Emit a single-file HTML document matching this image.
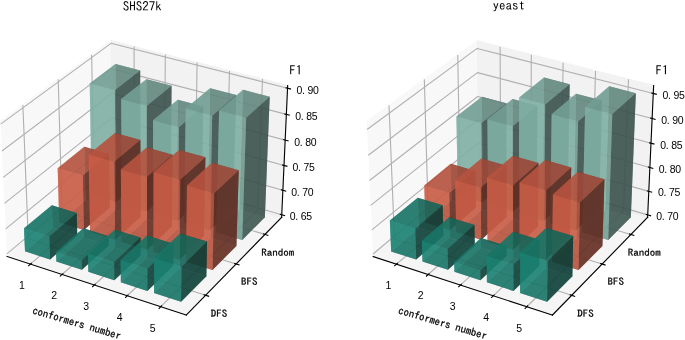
<!DOCTYPE html>
<html><head><meta charset="utf-8"><title>F1 3D bar charts</title>
<style>html,body{margin:0;padding:0;background:#fff;width:685px;height:340px;overflow:hidden}body{position:relative}</style>
</head><body>
<svg width="685" height="340" viewBox="0 0 493.2 244.8" version="1.1" style="position:absolute;left:0;top:0">
<defs>
<style type="text/css">*{stroke-linejoin: round; stroke-linecap: butt}</style>
</defs>
<g id="figure_1">
<g id="patch_1">
<path d="M 0 244.8
L 493.2 244.8
L 493.2 0
L 0 0
z
" style="fill: #ffffff"/>
</g>
<g id="patch_2">
<path d="M -12.296645 241.353845
L 217.567615 241.353845
L 217.567615 11.489585
L -12.296645 11.489585
z
" style="fill: #ffffff"/>
</g>
<g id="pane3d_1">
<g id="patch_3">
<path d="M 5.059692 184.676685
L 80.968378 121.04852
L 79.913174 29.285331
L 0.371867 87.330954
" style="fill: #f2f2f2; opacity: 0.5; stroke: #f2f2f2; stroke-linejoin: miter"/>
</g>
</g>
<g id="pane3d_2">
<g id="patch_4">
<path d="M 80.968378 121.04852
L 202.774734 156.452819
L 207.121573 61.528952
L 79.913174 29.285331
" style="fill: #e6e6e6; opacity: 0.5; stroke: #e6e6e6; stroke-linejoin: miter"/>
</g>
</g>
<g id="pane3d_3">
<g id="patch_5">
<path d="M 5.059692 184.676685
L 134.180379 226.847501
L 202.774734 156.452819
L 80.968378 121.04852
" style="fill: #ececec; opacity: 0.5; stroke: #ececec; stroke-linejoin: miter"/>
</g>
</g>
<g id="grid3d_1">
<g id="Line3DCollection_1">
<path d="M 21.88037 190.170319
L 96.897241 125.678411
L 96.517972 33.494163
" style="fill: none; stroke: #b0b0b0; stroke-width: 0.8"/>
<path d="M 44.680624 197.616881
L 118.459373 131.945672
L 119.009682 39.195156
" style="fill: none; stroke: #b0b0b0; stroke-width: 0.8"/>
<path d="M 67.918029 205.206218
L 140.400323 138.32304
L 141.913797 45.000681
" style="fill: none; stroke: #b0b0b0; stroke-width: 0.8"/>
<path d="M 91.605281 212.942474
L 162.730162 144.813442
L 165.241765 50.913641
" style="fill: none; stroke: #b0b0b0; stroke-width: 0.8"/>
<path d="M 115.755568 220.829958
L 185.459322 151.419912
L 189.00546 56.937045
" style="fill: none; stroke: #b0b0b0; stroke-width: 0.8"/>
</g>
</g>
<g id="grid3d_2">
<g id="Line3DCollection_2">
<path d="M 16.463075 75.588323
L 20.369559 171.843651
L 148.063859 212.599635
" style="fill: none; stroke: #b0b0b0; stroke-width: 0.8"/>
<path d="M 41.911886 57.01694
L 44.630671 151.507506
L 170.013986 190.073405
" style="fill: none; stroke: #b0b0b0; stroke-width: 0.8"/>
<path d="M 65.987217 39.44786
L 67.636733 132.223368
L 190.77147 168.77112
" style="fill: none; stroke: #b0b0b0; stroke-width: 0.8"/>
</g>
</g>
<g id="grid3d_3">
<g id="Line3DCollection_3">
<path d="M 202.858014 154.634182
L 80.948119 119.286794
L 4.970027 182.814731
" style="fill: none; stroke: #b0b0b0; stroke-width: 0.8"/>
<path d="M 203.664842 137.015119
L 80.751939 102.226472
L 4.101046 164.769771
" style="fill: none; stroke: #b0b0b0; stroke-width: 0.8"/>
<path d="M 204.485189 119.100849
L 80.55263 84.894016
L 3.216947 146.410892
" style="fill: none; stroke: #b0b0b0; stroke-width: 0.8"/>
<path d="M 205.319396 100.883892
L 80.350115 67.282862
L 2.317333 127.729829
" style="fill: none; stroke: #b0b0b0; stroke-width: 0.8"/>
<path d="M 206.167819 82.35651
L 80.144319 49.386236
L 1.401792 108.718027
" style="fill: none; stroke: #b0b0b0; stroke-width: 0.8"/>
<path d="M 207.030823 63.5107
L 79.935158 31.197137
L 0.469897 89.366623
" style="fill: none; stroke: #b0b0b0; stroke-width: 0.8"/>
</g>
</g>
<g id="axis3d_1">
<g id="line2d_1">
<path d="M 5.059692 184.676685
L 134.180379 226.847501
" style="fill: none; stroke: #000000; stroke-width: 0.8; stroke-linecap: square"/>
</g>
<g id="xtick_1">
<g id="line2d_2">
<path d="M 22.533812 189.608555
L 20.570671 191.296265
" style="fill: none; stroke: #000000; stroke-width: 0.8; stroke-linecap: square"/>
</g>
</g>
<g id="xtick_2">
<g id="line2d_3">
<path d="M 45.323779 197.044403
L 43.391517 198.764328
" style="fill: none; stroke: #000000; stroke-width: 0.8; stroke-linecap: square"/>
</g>
</g>
<g id="xtick_3">
<g id="line2d_4">
<path d="M 68.550381 204.622715
L 66.65055 206.375787
" style="fill: none; stroke: #000000; stroke-width: 0.8; stroke-linecap: square"/>
</g>
</g>
<g id="xtick_4">
<g id="line2d_5">
<path d="M 92.226288 212.347624
L 90.360513 214.134811
" style="fill: none; stroke: #000000; stroke-width: 0.8; stroke-linecap: square"/>
</g>
</g>
<g id="xtick_5">
<g id="line2d_6">
<path d="M 116.364665 220.223428
L 114.534648 222.045734
" style="fill: none; stroke: #000000; stroke-width: 0.8; stroke-linecap: square"/>
</g>
</g>
</g>
<g id="axis3d_2">
<g id="line2d_7">
<path d="M 202.774734 156.452819
L 134.180379 226.847501
" style="fill: none; stroke: #000000; stroke-width: 0.8; stroke-linecap: square"/>
</g>
<g id="xtick_6">
<g id="line2d_8">
<path d="M 146.988402 212.256383
L 150.217523 213.287016
" style="fill: none; stroke: #000000; stroke-width: 0.8; stroke-linecap: square"/>
</g>
</g>
<g id="xtick_7">
<g id="line2d_9">
<path d="M 168.959469 189.749053
L 172.125639 190.722916
" style="fill: none; stroke: #000000; stroke-width: 0.8; stroke-linecap: square"/>
</g>
</g>
<g id="xtick_8">
<g id="line2d_10">
<path d="M 189.737237 168.464148
L 192.842437 169.385805
" style="fill: none; stroke: #000000; stroke-width: 0.8; stroke-linecap: square"/>
</g>
</g>
</g>
<g id="axis3d_3">
<g id="line2d_11">
<path d="M 202.774734 156.452819
L 207.121573 61.528952
" style="fill: none; stroke: #000000; stroke-width: 0.8; stroke-linecap: square"/>
</g>
<g id="xtick_9">
<g id="line2d_12">
<path d="M 201.834813 154.337508
L 204.906852 155.228236
" style="fill: none; stroke: #000000; stroke-width: 0.8; stroke-linecap: square"/>
</g>
</g>
<g id="xtick_10">
<g id="line2d_13">
<path d="M 202.632822 136.723021
L 205.73136 137.600015
" style="fill: none; stroke: #000000; stroke-width: 0.8; stroke-linecap: square"/>
</g>
</g>
<g id="xtick_11">
<g id="line2d_14">
<path d="M 203.444196 118.813523
L 206.569695 119.676197
" style="fill: none; stroke: #000000; stroke-width: 0.8; stroke-linecap: square"/>
</g>
</g>
<g id="xtick_12">
<g id="line2d_15">
<path d="M 204.269273 100.601541
L 207.422206 101.449283
" style="fill: none; stroke: #000000; stroke-width: 0.8; stroke-linecap: square"/>
</g>
</g>
<g id="xtick_13">
<g id="line2d_16">
<path d="M 205.108404 82.079346
L 208.289255 82.91152
" style="fill: none; stroke: #000000; stroke-width: 0.8; stroke-linecap: square"/>
</g>
</g>
<g id="xtick_14">
<g id="line2d_17">
<path d="M 205.961952 63.238944
L 209.17122 64.054888
" style="fill: none; stroke: #000000; stroke-width: 0.8; stroke-linecap: square"/>
</g>
</g>
</g>
<g id="axes_1">
<g id="Poly3DCollection_1">
<path d="M 66.078973 140.28804
L 83.924591 125.19053
L 101.099102 130.205371
L 83.489503 145.516389
z
" clip-path="url(#pb77e497177)" style="fill: #4d6a63; fill-opacity: 0.7"/>
<path d="M 83.924591 125.19053
L 83.122492 46.138811
L 100.927183 50.767761
L 101.099102 130.205371
z
" clip-path="url(#pb77e497177)" style="fill: #3c524d; fill-opacity: 0.7"/>
<path d="M 66.078973 140.28804
L 64.589029 60.081757
L 83.122492 46.138811
L 83.924591 125.19053
z
" clip-path="url(#pb77e497177)" style="fill: #80afa4; fill-opacity: 0.7"/>
<path d="M 83.489503 145.516389
L 101.099102 130.205371
L 100.927183 50.767761
L 82.647414 64.915296
z
" clip-path="url(#pb77e497177)" style="fill: #3c524d; fill-opacity: 0.7"/>
<path d="M 66.078973 140.28804
L 83.489503 145.516389
L 82.647414 64.915296
L 64.589029 60.081757
z
" clip-path="url(#pb77e497177)" style="fill: #80afa4; fill-opacity: 0.7"/>
<path d="M 64.589029 60.081757
L 82.647414 64.915296
L 100.927183 50.767761
L 83.122492 46.138811
z
" clip-path="url(#pb77e497177)" style="fill: #6f988f; fill-opacity: 0.7"/>
</g>
<g id="Poly3DCollection_2">
<path d="M 87.880942 146.83513
L 105.430217 131.470027
L 122.906994 136.573128
L 105.604434 152.15746
z
" clip-path="url(#pb77e497177)" style="fill: #4d6a63; fill-opacity: 0.7"/>
<path d="M 105.430217 131.470027
L 105.419407 57.078869
L 123.506936 61.818792
L 122.906994 136.573128
z
" clip-path="url(#pb77e497177)" style="fill: #3c524d; fill-opacity: 0.7"/>
<path d="M 87.880942 146.83513
L 87.24761 71.357478
L 105.419407 57.078869
L 105.430217 131.470027
z
" clip-path="url(#pb77e497177)" style="fill: #80afa4; fill-opacity: 0.7"/>
<path d="M 105.604434 152.15746
L 122.906994 136.573128
L 123.506936 61.818792
L 105.599528 76.308355
z
" clip-path="url(#pb77e497177)" style="fill: #3c524d; fill-opacity: 0.7"/>
<path d="M 87.880942 146.83513
L 105.604434 152.15746
L 105.599528 76.308355
L 87.24761 71.357478
z
" clip-path="url(#pb77e497177)" style="fill: #80afa4; fill-opacity: 0.7"/>
<path d="M 87.24761 71.357478
L 105.599528 76.308355
L 123.506936 61.818792
L 105.419407 57.078869
z
" clip-path="url(#pb77e497177)" style="fill: #6f988f; fill-opacity: 0.7"/>
</g>
<g id="Poly3DCollection_3">
<path d="M 61.49989 144.161975
L 60.702209 105.735692
L 78.48394 110.835473
L 78.970149 149.445831
z
" clip-path="url(#pb77e497177)" style="fill: #5f2b21; fill-opacity: 0.7"/>
<path d="M 42.690008 160.075259
L 61.49989 144.161975
L 78.970149 149.445831
L 60.402063 165.590225
z
" clip-path="url(#pb77e497177)" style="fill: #7a372a; fill-opacity: 0.7"/>
<path d="M 42.690008 160.075259
L 41.528229 121.098588
L 60.702209 105.735692
L 61.49989 144.161975
z
" clip-path="url(#pb77e497177)" style="fill: #c95c46; fill-opacity: 0.7"/>
<path d="M 60.402063 165.590225
L 78.970149 149.445831
L 78.48394 110.835473
L 59.560419 126.425598
z
" clip-path="url(#pb77e497177)" style="fill: #5f2b21; fill-opacity: 0.7"/>
<path d="M 41.528229 121.098588
L 59.560419 126.425598
L 78.48394 110.835473
L 60.702209 105.735692
z
" clip-path="url(#pb77e497177)" style="fill: #af503d; fill-opacity: 0.7"/>
<path d="M 42.690008 160.075259
L 60.402063 165.590225
L 59.560419 126.425598
L 41.528229 121.098588
z
" clip-path="url(#pb77e497177)" style="fill: #c95c46; fill-opacity: 0.7"/>
</g>
<g id="Poly3DCollection_4">
<path d="M 110.075166 153.500013
L 127.314671 137.86014
L 145.101765 143.053851
L 128.120135 158.918882
z
" clip-path="url(#pb77e497177)" style="fill: #4d6a63; fill-opacity: 0.7"/>
<path d="M 127.314671 137.86014
L 127.981046 71.832576
L 146.326469 76.704773
L 145.101765 143.053851
z
" clip-path="url(#pb77e497177)" style="fill: #3c524d; fill-opacity: 0.7"/>
<path d="M 110.075166 153.500013
L 110.211973 86.510743
L 127.981046 71.832576
L 127.314671 137.86014
z
" clip-path="url(#pb77e497177)" style="fill: #80afa4; fill-opacity: 0.7"/>
<path d="M 128.120135 158.918882
L 145.101765 143.053851
L 146.326469 76.704773
L 128.831912 91.600926
z
" clip-path="url(#pb77e497177)" style="fill: #3c524d; fill-opacity: 0.7"/>
<path d="M 110.075166 153.500013
L 128.120135 158.918882
L 128.831912 91.600926
L 110.211973 86.510743
z
" clip-path="url(#pb77e497177)" style="fill: #80afa4; fill-opacity: 0.7"/>
<path d="M 110.211973 86.510743
L 128.831912 91.600926
L 146.326469 76.704773
L 127.981046 71.832576
z
" clip-path="url(#pb77e497177)" style="fill: #6f988f; fill-opacity: 0.7"/>
</g>
<g id="Poly3DCollection_5">
<path d="M 37.86014 164.161359
L 37.335001 147.828562
L 55.24284 153.326093
L 55.633356 169.736472
z
" clip-path="url(#pb77e497177)" style="fill: #0d3d36; fill-opacity: 0.7"/>
<path d="M 18.005673 180.958369
L 37.86014 164.161359
L 55.633356 169.736472
L 36.02634 186.784184
z
" clip-path="url(#pb77e497177)" style="fill: #114e45; fill-opacity: 0.7"/>
<path d="M 18.005673 180.958369
L 17.311782 164.393726
L 37.335001 147.828562
L 37.86014 164.161359
z
" clip-path="url(#pb77e497177)" style="fill: #1b8172; fill-opacity: 0.7"/>
<path d="M 36.02634 186.784184
L 55.633356 169.736472
L 55.24284 153.326093
L 35.470794 170.140455
z
" clip-path="url(#pb77e497177)" style="fill: #0d3d36; fill-opacity: 0.7"/>
<path d="M 17.311782 164.393726
L 35.470794 170.140455
L 55.24284 153.326093
L 37.335001 147.828562
z
" clip-path="url(#pb77e497177)" style="fill: #187063; fill-opacity: 0.7"/>
<path d="M 18.005673 180.958369
L 36.02634 186.784184
L 35.470794 170.140455
L 17.311782 164.393726
z
" clip-path="url(#pb77e497177)" style="fill: #1b8172; fill-opacity: 0.7"/>
</g>
<g id="Poly3DCollection_6">
<path d="M 64.870629 166.981593
L 83.376861 150.778636
L 101.162841 156.157981
L 82.909795 172.598412
z
" clip-path="url(#pb77e497177)" style="fill: #7a372a; fill-opacity: 0.7"/>
<path d="M 83.376861 150.778636
L 82.797597 95.749563
L 101.043366 100.861464
L 101.162841 156.157981
z
" clip-path="url(#pb77e497177)" style="fill: #5f2b21; fill-opacity: 0.7"/>
<path d="M 64.870629 166.981593
L 63.788404 111.152757
L 82.797597 95.749563
L 83.376861 150.778636
z
" clip-path="url(#pb77e497177)" style="fill: #c95c46; fill-opacity: 0.7"/>
<path d="M 82.909795 172.598412
L 101.162841 156.157981
L 101.043366 100.861464
L 82.300647 116.496389
z
" clip-path="url(#pb77e497177)" style="fill: #5f2b21; fill-opacity: 0.7"/>
<path d="M 64.870629 166.981593
L 82.909795 172.598412
L 82.300647 116.496389
L 63.788404 111.152757
z
" clip-path="url(#pb77e497177)" style="fill: #c95c46; fill-opacity: 0.7"/>
<path d="M 63.788404 111.152757
L 82.300647 116.496389
L 101.043366 100.861464
L 82.797597 95.749563
z
" clip-path="url(#pb77e497177)" style="fill: #af503d; fill-opacity: 0.7"/>
</g>
<g id="Poly3DCollection_7">
<path d="M 132.672328 160.285897
L 149.588052 144.363817
L 167.693802 149.650573
L 151.047599 165.803956
z
" clip-path="url(#pb77e497177)" style="fill: #4d6a63; fill-opacity: 0.7"/>
<path d="M 149.588052 144.363817
L 151.252314 63.476454
L 170.062778 68.364101
L 167.693802 149.650573
z
" clip-path="url(#pb77e497177)" style="fill: #3c524d; fill-opacity: 0.7"/>
<path d="M 132.672328 160.285897
L 133.71742 78.204594
L 151.252314 63.476454
L 149.588052 144.363817
z
" clip-path="url(#pb77e497177)" style="fill: #80afa4; fill-opacity: 0.7"/>
<path d="M 151.047599 165.803956
L 167.693802 149.650573
L 170.062778 68.364101
L 152.819145 83.314505
z
" clip-path="url(#pb77e497177)" style="fill: #3c524d; fill-opacity: 0.7"/>
<path d="M 132.672328 160.285897
L 151.047599 165.803956
L 152.819145 83.314505
L 133.71742 78.204594
z
" clip-path="url(#pb77e497177)" style="fill: #80afa4; fill-opacity: 0.7"/>
<path d="M 133.71742 78.204594
L 152.819145 83.314505
L 170.062778 68.364101
L 151.252314 63.476454
z
" clip-path="url(#pb77e497177)" style="fill: #6f988f; fill-opacity: 0.7"/>
</g>
<g id="Poly3DCollection_8">
<path d="M 60.117575 171.143085
L 59.971108 164.387799
L 78.131834 170.034514
L 78.220842 176.821729
z
" clip-path="url(#pb77e497177)" style="fill: #0d3d36; fill-opacity: 0.7"/>
<path d="M 40.573919 188.254349
L 40.360018 181.40367
L 59.971108 164.387799
L 60.117575 171.143085
z
" clip-path="url(#pb77e497177)" style="fill: #1b8172; fill-opacity: 0.7"/>
<path d="M 40.573919 188.254349
L 60.117575 171.143085
L 78.220842 176.821729
L 58.93678 194.190791
z
" clip-path="url(#pb77e497177)" style="fill: #114e45; fill-opacity: 0.7"/>
<path d="M 40.360018 181.40367
L 58.781981 187.307587
L 78.131834 170.034514
L 59.971108 164.387799
z
" clip-path="url(#pb77e497177)" style="fill: #187063; fill-opacity: 0.7"/>
<path d="M 58.93678 194.190791
L 78.220842 176.821729
L 78.131834 170.034514
L 58.781981 187.307587
z
" clip-path="url(#pb77e497177)" style="fill: #0d3d36; fill-opacity: 0.7"/>
<path d="M 40.573919 188.254349
L 58.93678 194.190791
L 58.781981 187.307587
L 40.360018 181.40367
z
" clip-path="url(#pb77e497177)" style="fill: #1b8172; fill-opacity: 0.7"/>
</g>
<g id="Poly3DCollection_9">
<path d="M 87.461269 174.015595
L 105.649551 157.51498
L 123.759889 162.992427
L 105.836693 179.737113
z
" clip-path="url(#pb77e497177)" style="fill: #7a372a; fill-opacity: 0.7"/>
<path d="M 105.649551 157.51498
L 105.647317 106.201661
L 124.1997 111.429705
L 123.759889 162.992427
z
" clip-path="url(#pb77e497177)" style="fill: #5f2b21; fill-opacity: 0.7"/>
<path d="M 87.461269 174.015595
L 87.008395 121.956558
L 105.647317 106.201661
L 105.649551 157.51498
z
" clip-path="url(#pb77e497177)" style="fill: #c95c46; fill-opacity: 0.7"/>
<path d="M 105.836693 179.737113
L 123.759889 162.992427
L 124.1997 111.429705
L 105.839062 127.423418
z
" clip-path="url(#pb77e497177)" style="fill: #5f2b21; fill-opacity: 0.7"/>
<path d="M 87.461269 174.015595
L 105.836693 179.737113
L 105.839062 127.423418
L 87.008395 121.956558
z
" clip-path="url(#pb77e497177)" style="fill: #c95c46; fill-opacity: 0.7"/>
<path d="M 87.008395 121.956558
L 105.839062 127.423418
L 124.1997 111.429705
L 105.647317 106.201661
z
" clip-path="url(#pb77e497177)" style="fill: #af503d; fill-opacity: 0.7"/>
</g>
<g id="Poly3DCollection_10">
<path d="M 155.6835 167.196108
L 172.260821 150.984112
L 190.693867 156.366437
L 174.398228 172.816105
z
" clip-path="url(#pb77e497177)" style="fill: #4d6a63; fill-opacity: 0.7"/>
<path d="M 172.260821 150.984112
L 174.962389 64.704065
L 194.17001 69.657811
L 190.693867 156.366437
z
" clip-path="url(#pb77e497177)" style="fill: #3c524d; fill-opacity: 0.7"/>
<path d="M 155.6835 167.196108
L 157.757775 79.633964
L 174.962389 64.704065
L 172.260821 150.984112
z
" clip-path="url(#pb77e497177)" style="fill: #80afa4; fill-opacity: 0.7"/>
<path d="M 174.398228 172.816105
L 190.693867 156.366437
L 194.17001 69.657811
L 177.271732 84.815681
z
" clip-path="url(#pb77e497177)" style="fill: #3c524d; fill-opacity: 0.7"/>
<path d="M 155.6835 167.196108
L 174.398228 172.816105
L 177.271732 84.815681
L 157.757775 79.633964
z
" clip-path="url(#pb77e497177)" style="fill: #80afa4; fill-opacity: 0.7"/>
<path d="M 157.757775 79.633964
L 177.271732 84.815681
L 194.17001 69.657811
L 174.962389 64.704065
z
" clip-path="url(#pb77e497177)" style="fill: #6f988f; fill-opacity: 0.7"/>
</g>
<g id="Poly3DCollection_11">
<path d="M 82.788721 178.254584
L 82.647394 165.341979
L 101.203337 171.065628
L 101.231318 184.039669
z
" clip-path="url(#pb77e497177)" style="fill: #0d3d36; fill-opacity: 0.7"/>
<path d="M 63.571123 195.689005
L 63.305571 182.592854
L 82.647394 165.341979
L 82.788721 178.254584
z
" clip-path="url(#pb77e497177)" style="fill: #1b8172; fill-opacity: 0.7"/>
<path d="M 63.571123 195.689005
L 82.788721 178.254584
L 101.231318 184.039669
L 82.286016 201.739254
z
" clip-path="url(#pb77e497177)" style="fill: #114e45; fill-opacity: 0.7"/>
<path d="M 63.305571 182.592854
L 82.137175 188.580528
L 101.203337 171.065628
L 82.647394 165.341979
z
" clip-path="url(#pb77e497177)" style="fill: #187063; fill-opacity: 0.7"/>
<path d="M 82.286016 201.739254
L 101.231318 184.039669
L 101.203337 171.065628
L 82.137175 188.580528
z
" clip-path="url(#pb77e497177)" style="fill: #0d3d36; fill-opacity: 0.7"/>
<path d="M 63.571123 195.689005
L 82.286016 201.739254
L 82.137175 188.580528
L 63.305571 182.592854
z
" clip-path="url(#pb77e497177)" style="fill: #1b8172; fill-opacity: 0.7"/>
</g>
<g id="Poly3DCollection_12">
<path d="M 110.473404 181.180837
L 128.328795 164.374287
L 146.772444 169.952543
L 129.194576 187.01001
z
" clip-path="url(#pb77e497177)" style="fill: #7a372a; fill-opacity: 0.7"/>
<path d="M 128.328795 164.374287
L 128.93272 107.930237
L 147.877795 113.232435
L 146.772444 169.952543
z
" clip-path="url(#pb77e497177)" style="fill: #5f2b21; fill-opacity: 0.7"/>
<path d="M 110.473404 181.180837
L 110.602798 123.911387
L 128.93272 107.930237
L 128.328795 164.374287
z
" clip-path="url(#pb77e497177)" style="fill: #c95c46; fill-opacity: 0.7"/>
<path d="M 129.194576 187.01001
L 146.772444 169.952543
L 147.877795 113.232435
L 129.840881 129.458705
z
" clip-path="url(#pb77e497177)" style="fill: #5f2b21; fill-opacity: 0.7"/>
<path d="M 110.473404 181.180837
L 129.194576 187.01001
L 129.840881 129.458705
L 110.602798 123.911387
z
" clip-path="url(#pb77e497177)" style="fill: #c95c46; fill-opacity: 0.7"/>
<path d="M 110.602798 123.911387
L 129.840881 129.458705
L 147.877795 113.232435
L 128.93272 107.930237
z
" clip-path="url(#pb77e497177)" style="fill: #af503d; fill-opacity: 0.7"/>
</g>
<g id="Poly3DCollection_13">
<path d="M 133.918942 188.481026
L 151.425826 171.359953
L 170.212074 177.041828
L 152.995712 194.420921
z
" clip-path="url(#pb77e497177)" style="fill: #7a372a; fill-opacity: 0.7"/>
<path d="M 151.425826 171.359953
L 152.602113 117.18438
L 171.884717 122.601071
L 170.212074 177.041828
z
" clip-path="url(#pb77e497177)" style="fill: #5f2b21; fill-opacity: 0.7"/>
<path d="M 133.918942 188.481026
L 134.661113 133.512664
L 152.602113 117.18438
L 151.425826 171.359953
z
" clip-path="url(#pb77e497177)" style="fill: #c95c46; fill-opacity: 0.7"/>
<path d="M 152.995712 194.420921
L 170.212074 177.041828
L 171.884717 122.601071
L 154.250052 139.181911
z
" clip-path="url(#pb77e497177)" style="fill: #5f2b21; fill-opacity: 0.7"/>
<path d="M 133.918942 188.481026
L 152.995712 194.420921
L 154.250052 139.181911
L 134.661113 133.512664
z
" clip-path="url(#pb77e497177)" style="fill: #c95c46; fill-opacity: 0.7"/>
<path d="M 134.661113 133.512664
L 154.250052 139.181911
L 171.884717 122.601071
L 152.602113 117.18438
z
" clip-path="url(#pb77e497177)" style="fill: #af503d; fill-opacity: 0.7"/>
</g>
<g id="Poly3DCollection_14">
<path d="M 105.88522 185.499507
L 105.886311 169.601542
L 124.821916 175.420138
L 124.676779 191.394055
z
" clip-path="url(#pb77e497177)" style="fill: #0d3d36; fill-opacity: 0.7"/>
<path d="M 87.009631 203.266328
L 105.88522 185.499507
L 124.676779 191.394055
L 106.086779 209.433688
z
" clip-path="url(#pb77e497177)" style="fill: #114e45; fill-opacity: 0.7"/>
<path d="M 87.009631 203.266328
L 86.863862 187.141467
L 105.886311 169.601542
L 105.88522 185.499507
z
" clip-path="url(#pb77e497177)" style="fill: #1b8172; fill-opacity: 0.7"/>
<path d="M 106.086779 209.433688
L 124.676779 191.394055
L 124.821916 175.420138
L 106.089485 193.231487
z
" clip-path="url(#pb77e497177)" style="fill: #0d3d36; fill-opacity: 0.7"/>
<path d="M 86.863862 187.141467
L 106.089485 193.231487
L 124.821916 175.420138
L 105.886311 169.601542
z
" clip-path="url(#pb77e497177)" style="fill: #187063; fill-opacity: 0.7"/>
<path d="M 87.009631 203.266328
L 106.086779 209.433688
L 106.089485 193.231487
L 86.863862 187.141467
z
" clip-path="url(#pb77e497177)" style="fill: #1b8172; fill-opacity: 0.7"/>
</g>
<g id="Poly3DCollection_15">
<path d="M 129.419157 192.881647
L 129.701354 168.061255
L 149.08406 173.948804
L 148.569676 198.888793
z
" clip-path="url(#pb77e497177)" style="fill: #0d3d36; fill-opacity: 0.7"/>
<path d="M 110.902269 210.990465
L 129.419157 192.881647
L 148.569676 198.888793
L 130.352293 217.27837
z
" clip-path="url(#pb77e497177)" style="fill: #114e45; fill-opacity: 0.7"/>
<path d="M 110.902269 210.990465
L 110.965207 185.812796
L 129.701354 168.061255
L 129.419157 192.881647
z
" clip-path="url(#pb77e497177)" style="fill: #1b8172; fill-opacity: 0.7"/>
<path d="M 130.352293 217.27837
L 148.569676 198.888793
L 149.08406 173.948804
L 130.654817 191.978922
z
" clip-path="url(#pb77e497177)" style="fill: #0d3d36; fill-opacity: 0.7"/>
<path d="M 110.965207 185.812796
L 130.654817 191.978922
L 149.08406 173.948804
L 129.701354 168.061255
z
" clip-path="url(#pb77e497177)" style="fill: #187063; fill-opacity: 0.7"/>
<path d="M 110.902269 210.990465
L 130.352293 217.27837
L 130.654817 191.978922
L 110.965207 185.812796
z
" clip-path="url(#pb77e497177)" style="fill: #1b8172; fill-opacity: 0.7"/>
</g>
</g>
<g id="patch_6">
<path d="M 251.34416 241.364205
L 481.055293 241.364205
L 481.055293 11.653072
L 251.34416 11.653072
z
" style="fill: #ffffff"/>
</g>
<g id="pane3d_4">
<g id="patch_7">
<path d="M 268.688934 184.724801
L 344.547053 121.139023
L 343.492552 29.436963
L 264.004232 87.443918
" style="fill: #f2f2f2; opacity: 0.5; stroke: #f2f2f2; stroke-linejoin: miter"/>
</g>
</g>
<g id="pane3d_5">
<g id="patch_8">
<path d="M 344.547053 121.139023
L 466.272266 156.519736
L 470.616209 61.659104
L 343.492552 29.436963
" style="fill: #e6e6e6; opacity: 0.5; stroke: #e6e6e6; stroke-linejoin: miter"/>
</g>
</g>
<g id="pane3d_6">
<g id="patch_9">
<path d="M 268.688934 184.724801
L 397.723606 226.867525
L 466.272266 156.519736
L 344.547053 121.139023
" style="fill: #ececec; opacity: 0.5; stroke: #ececec; stroke-linejoin: miter"/>
</g>
</g>
<g id="grid3d_4">
<g id="Line3DCollection_4">
<path d="M 285.498407 190.214775
L 360.465305 125.76583
L 360.086288 33.642991
" style="fill: none; stroke: #b0b0b0; stroke-width: 0.8"/>
<path d="M 308.283472 197.656377
L 382.013073 132.028916
L 382.563015 39.340186
" style="fill: none; stroke: #b0b0b0; stroke-width: 0.8"/>
<path d="M 331.505398 205.240658
L 403.939406 138.402035
L 405.451872 45.141845
" style="fill: none; stroke: #b0b0b0; stroke-width: 0.8"/>
<path d="M 355.17687 212.971761
L 426.25437 144.888114
L 428.7643 51.050865
" style="fill: none; stroke: #b0b0b0; stroke-width: 0.8"/>
<path d="M 379.311069 220.85399
L 448.968389 151.490183
L 452.512164 57.070257
" style="fill: none; stroke: #b0b0b0; stroke-width: 0.8"/>
</g>
</g>
<g id="grid3d_5">
<g id="Line3DCollection_5">
<path d="M 280.084721 75.70911
L 283.988603 171.900316
L 411.597838 212.62915
" style="fill: none; stroke: #b0b0b0; stroke-width: 0.8"/>
<path d="M 305.516579 57.150098
L 308.233553 151.577718
L 433.533342 190.117926
" style="fill: none; stroke: #b0b0b0; stroke-width: 0.8"/>
<path d="M 329.575872 39.592722
L 331.224289 132.306427
L 454.276998 168.829832
" style="fill: none; stroke: #b0b0b0; stroke-width: 0.8"/>
</g>
</g>
<g id="grid3d_6">
<g id="Line3DCollection_6">
<path d="M 466.355491 154.702312
L 344.526808 119.378471
L 268.599329 182.864087
" style="fill: none; stroke: #b0b0b0; stroke-width: 0.8"/>
<path d="M 467.130523 137.777598
L 344.338356 102.99023
L 267.764604 165.530472
" style="fill: none; stroke: #b0b0b0; stroke-width: 0.8"/>
<path d="M 467.918032 120.580395
L 344.147016 86.350784
L 266.915925 147.907104
" style="fill: none; stroke: #b0b0b0; stroke-width: 0.8"/>
<path d="M 468.718324 103.104067
L 343.95272 69.454314
L 266.052939 129.986656
" style="fill: none; stroke: #b0b0b0; stroke-width: 0.8"/>
<path d="M 469.531712 85.341765
L 343.755399 52.294817
L 265.175283 111.761552
" style="fill: none; stroke: #b0b0b0; stroke-width: 0.8"/>
<path d="M 470.358519 67.28641
L 343.554983 34.866103
L 264.282578 93.223957
" style="fill: none; stroke: #b0b0b0; stroke-width: 0.8"/>
</g>
</g>
<g id="axis3d_4">
<g id="line2d_18">
<path d="M 268.688934 184.724801
L 397.723606 226.867525
" style="fill: none; stroke: #000000; stroke-width: 0.8; stroke-linecap: square"/>
</g>
<g id="xtick_15">
<g id="line2d_19">
<path d="M 286.151414 189.653386
L 284.189581 191.339972
" style="fill: none; stroke: #000000; stroke-width: 0.8; stroke-linecap: square"/>
</g>
</g>
<g id="xtick_16">
<g id="line2d_20">
<path d="M 308.926199 197.08428
L 306.995224 198.80306
" style="fill: none; stroke: #000000; stroke-width: 0.8; stroke-linecap: square"/>
</g>
</g>
<g id="xtick_17">
<g id="line2d_21">
<path d="M 332.137328 204.657543
L 330.238763 206.409448
" style="fill: none; stroke: #000000; stroke-width: 0.8; stroke-linecap: square"/>
</g>
</g>
<g id="xtick_18">
<g id="line2d_22">
<path d="M 355.797463 212.377307
L 353.932932 214.163303
" style="fill: none; stroke: #000000; stroke-width: 0.8; stroke-linecap: square"/>
</g>
</g>
<g id="xtick_19">
<g id="line2d_23">
<path d="M 379.91976 220.247864
L 378.090962 222.068956
" style="fill: none; stroke: #000000; stroke-width: 0.8; stroke-linecap: square"/>
</g>
</g>
</g>
<g id="axis3d_5">
<g id="line2d_24">
<path d="M 466.272266 156.519736
L 397.723606 226.867525
" style="fill: none; stroke: #000000; stroke-width: 0.8; stroke-linecap: square"/>
</g>
<g id="xtick_20">
<g id="line2d_25">
<path d="M 410.523097 212.286126
L 413.750067 213.316073
" style="fill: none; stroke: #000000; stroke-width: 0.8; stroke-linecap: square"/>
</g>
</g>
<g id="xtick_21">
<g id="line2d_26">
<path d="M 432.479528 189.79379
L 435.643588 190.767004
" style="fill: none; stroke: #000000; stroke-width: 0.8; stroke-linecap: square"/>
</g>
</g>
<g id="xtick_22">
<g id="line2d_27">
<path d="M 453.243454 168.523064
L 456.346585 169.444108
" style="fill: none; stroke: #000000; stroke-width: 0.8; stroke-linecap: square"/>
</g>
</g>
</g>
<g id="axis3d_6">
<g id="line2d_28">
<path d="M 466.272266 156.519736
L 470.616209 61.659104
" style="fill: none; stroke: #000000; stroke-width: 0.8; stroke-linecap: square"/>
</g>
<g id="xtick_23">
<g id="line2d_29">
<path d="M 465.332972 154.405835
L 468.402963 155.29597
" style="fill: none; stroke: #000000; stroke-width: 0.8; stroke-linecap: square"/>
</g>
</g>
<g id="xtick_24">
<g id="line2d_30">
<path d="M 466.099531 137.485515
L 469.194979 138.362464
" style="fill: none; stroke: #000000; stroke-width: 0.8; stroke-linecap: square"/>
</g>
</g>
<g id="xtick_25">
<g id="line2d_31">
<path d="M 466.878428 120.292886
L 469.999756 121.156108
" style="fill: none; stroke: #000000; stroke-width: 0.8; stroke-linecap: square"/>
</g>
</g>
<g id="xtick_26">
<g id="line2d_32">
<path d="M 467.669962 102.82132
L 470.817606 103.670252
" style="fill: none; stroke: #000000; stroke-width: 0.8; stroke-linecap: square"/>
</g>
</g>
<g id="xtick_27">
<g id="line2d_33">
<path d="M 468.474442 85.063974
L 471.64885 85.89803
" style="fill: none; stroke: #000000; stroke-width: 0.8; stroke-linecap: square"/>
</g>
</g>
<g id="xtick_28">
<g id="line2d_34">
<path d="M 469.29219 67.013778
L 472.493819 67.83235
" style="fill: none; stroke: #000000; stroke-width: 0.8; stroke-linecap: square"/>
</g>
</g>
</g>
<g id="axes_2">
<g id="Poly3DCollection_16">
<path d="M 329.667567 140.365727
L 347.501297 125.278274
L 364.664367 130.289774
L 347.066498 145.590593
z
" clip-path="url(#pe1fc2122fa)" style="fill: #4d6a63; fill-opacity: 0.7"/>
<path d="M 347.501297 125.278274
L 346.9361 69.574656
L 364.543233 74.318471
L 364.664367 130.289774
z
" clip-path="url(#pe1fc2122fa)" style="fill: #3c524d; fill-opacity: 0.7"/>
<path d="M 329.667567 140.365727
L 328.61792 83.861416
L 346.9361 69.574656
L 347.501297 125.278274
z
" clip-path="url(#pe1fc2122fa)" style="fill: #80afa4; fill-opacity: 0.7"/>
<path d="M 347.066498 145.590593
L 364.664367 130.289774
L 364.543233 74.318471
L 346.473304 88.812625
z
" clip-path="url(#pe1fc2122fa)" style="fill: #3c524d; fill-opacity: 0.7"/>
<path d="M 329.667567 140.365727
L 347.066498 145.590593
L 346.473304 88.812625
L 328.61792 83.861416
z
" clip-path="url(#pe1fc2122fa)" style="fill: #80afa4; fill-opacity: 0.7"/>
<path d="M 328.61792 83.861416
L 346.473304 88.812625
L 364.543233 74.318471
L 346.9361 69.574656
z
" clip-path="url(#pe1fc2122fa)" style="fill: #6f988f; fill-opacity: 0.7"/>
</g>
<g id="Poly3DCollection_17">
<path d="M 351.455012 146.908455
L 368.992596 131.553588
L 386.457731 136.653289
L 369.166697 152.22724
z
" clip-path="url(#pe1fc2122fa)" style="fill: #4d6a63; fill-opacity: 0.7"/>
<path d="M 368.992596 131.553588
L 368.983848 71.35024
L 386.94323 76.158838
L 386.457731 136.653289
z
" clip-path="url(#pe1fc2122fa)" style="fill: #3c524d; fill-opacity: 0.7"/>
<path d="M 351.455012 146.908455
L 350.94254 85.83437
L 368.983848 71.35024
L 368.992596 131.553588
z
" clip-path="url(#pe1fc2122fa)" style="fill: #80afa4; fill-opacity: 0.7"/>
<path d="M 369.166697 152.22724
L 386.457731 136.653289
L 386.94323 76.158838
L 369.162728 90.855563
z
" clip-path="url(#pe1fc2122fa)" style="fill: #3c524d; fill-opacity: 0.7"/>
<path d="M 351.455012 146.908455
L 369.166697 152.22724
L 369.162728 90.855563
L 350.94254 85.83437
z
" clip-path="url(#pe1fc2122fa)" style="fill: #80afa4; fill-opacity: 0.7"/>
<path d="M 350.94254 85.83437
L 369.162728 90.855563
L 386.94323 76.158838
L 368.983848 71.35024
z
" clip-path="url(#pe1fc2122fa)" style="fill: #6f988f; fill-opacity: 0.7"/>
</g>
<g id="Poly3DCollection_18">
<path d="M 325.091534 144.237081
L 324.546104 117.962361
L 342.217714 123.117908
L 342.550155 149.517417
z
" clip-path="url(#pe1fc2122fa)" style="fill: #5f2b21; fill-opacity: 0.7"/>
<path d="M 306.294183 160.139763
L 325.091534 144.237081
L 342.550155 149.517417
L 323.994439 165.651056
z
" clip-path="url(#pe1fc2122fa)" style="fill: #7a372a; fill-opacity: 0.7"/>
<path d="M 306.294183 160.139763
L 305.499891 133.491977
L 324.546104 117.962361
L 325.091534 144.237081
z
" clip-path="url(#pe1fc2122fa)" style="fill: #c95c46; fill-opacity: 0.7"/>
<path d="M 323.994439 165.651056
L 342.550155 149.517417
L 342.217714 123.117908
L 323.419043 138.875907
z
" clip-path="url(#pe1fc2122fa)" style="fill: #5f2b21; fill-opacity: 0.7"/>
<path d="M 305.499891 133.491977
L 323.419043 138.875907
L 342.217714 123.117908
L 324.546104 117.962361
z
" clip-path="url(#pe1fc2122fa)" style="fill: #af503d; fill-opacity: 0.7"/>
<path d="M 306.294183 160.139763
L 323.994439 165.651056
L 323.419043 138.875907
L 305.499891 133.491977
z
" clip-path="url(#pe1fc2122fa)" style="fill: #c95c46; fill-opacity: 0.7"/>
</g>
<g id="Poly3DCollection_19">
<path d="M 346.953932 150.849333
L 346.566845 114.076719
L 364.64823 119.276054
L 364.728064 156.225095
z
" clip-path="url(#pe1fc2122fa)" style="fill: #5f2b21; fill-opacity: 0.7"/>
<path d="M 328.460028 167.041497
L 346.953932 150.849333
L 364.728064 156.225095
L 346.487177 172.654574
z
" clip-path="url(#pe1fc2122fa)" style="fill: #7a372a; fill-opacity: 0.7"/>
<path d="M 328.460028 167.041497
L 327.736977 129.741417
L 346.566845 114.076719
L 346.953932 150.849333
z
" clip-path="url(#pe1fc2122fa)" style="fill: #c95c46; fill-opacity: 0.7"/>
<path d="M 346.487177 172.654574
L 364.728064 156.225095
L 364.64823 119.276054
L 346.080222 135.174401
z
" clip-path="url(#pe1fc2122fa)" style="fill: #5f2b21; fill-opacity: 0.7"/>
<path d="M 327.736977 129.741417
L 346.080222 135.174401
L 364.64823 119.276054
L 346.566845 114.076719
z
" clip-path="url(#pe1fc2122fa)" style="fill: #af503d; fill-opacity: 0.7"/>
<path d="M 328.460028 167.041497
L 346.487177 172.654574
L 346.080222 135.174401
L 327.736977 129.741417
z
" clip-path="url(#pe1fc2122fa)" style="fill: #c95c46; fill-opacity: 0.7"/>
</g>
<g id="Poly3DCollection_20">
<path d="M 373.634451 153.568898
L 390.862472 137.939444
L 408.637716 143.129695
L 391.667399 158.984158
z
" clip-path="url(#pe1fc2122fa)" style="fill: #4d6a63; fill-opacity: 0.7"/>
<path d="M 390.862472 137.939444
L 391.691276 55.817611
L 410.161025 60.603553
L 408.637716 143.129695
z
" clip-path="url(#pe1fc2122fa)" style="fill: #3c524d; fill-opacity: 0.7"/>
<path d="M 373.634451 153.568898
L 373.804633 70.237481
L 391.691276 55.817611
L 390.862472 137.939444
z
" clip-path="url(#pe1fc2122fa)" style="fill: #80afa4; fill-opacity: 0.7"/>
<path d="M 391.667399 158.984158
L 408.637716 143.129695
L 410.161025 60.603553
L 392.552865 75.239179
z
" clip-path="url(#pe1fc2122fa)" style="fill: #3c524d; fill-opacity: 0.7"/>
<path d="M 373.634451 153.568898
L 391.667399 158.984158
L 392.552865 75.239179
L 373.804633 70.237481
z
" clip-path="url(#pe1fc2122fa)" style="fill: #80afa4; fill-opacity: 0.7"/>
<path d="M 373.804633 70.237481
L 392.552865 75.239179
L 410.161025 60.603553
L 391.691276 55.817611
z
" clip-path="url(#pe1fc2122fa)" style="fill: #6f988f; fill-opacity: 0.7"/>
</g>
<g id="Poly3DCollection_21">
<path d="M 396.216559 160.350262
L 413.121015 144.438788
L 431.214703 149.722022
L 414.57959 165.864645
z
" clip-path="url(#pe1fc2122fa)" style="fill: #4d6a63; fill-opacity: 0.7"/>
<path d="M 413.121015 144.438788
L 414.703163 67.542379
L 433.466766 72.447219
L 431.214703 149.722022
z
" clip-path="url(#pe1fc2122fa)" style="fill: #3c524d; fill-opacity: 0.7"/>
<path d="M 396.216559 160.350262
L 397.210048 82.321934
L 414.703163 67.542379
L 413.121015 144.438788
z
" clip-path="url(#pe1fc2122fa)" style="fill: #80afa4; fill-opacity: 0.7"/>
<path d="M 414.57959 165.864645
L 431.214703 149.722022
L 433.466766 72.447219
L 416.263637 87.449408
z
" clip-path="url(#pe1fc2122fa)" style="fill: #3c524d; fill-opacity: 0.7"/>
<path d="M 396.216559 160.350262
L 414.57959 165.864645
L 416.263637 87.449408
L 397.210048 82.321934
z
" clip-path="url(#pe1fc2122fa)" style="fill: #80afa4; fill-opacity: 0.7"/>
<path d="M 397.210048 82.321934
L 416.263637 87.449408
L 433.466766 72.447219
L 414.703163 67.542379
z
" clip-path="url(#pe1fc2122fa)" style="fill: #6f988f; fill-opacity: 0.7"/>
</g>
<g id="Poly3DCollection_22">
<path d="M 301.467532 164.223142
L 300.763633 142.330592
L 318.705449 147.797573
L 319.228909 169.794541
z
" clip-path="url(#pe1fc2122fa)" style="fill: #0d3d36; fill-opacity: 0.7"/>
<path d="M 281.626291 181.008962
L 301.467532 164.223142
L 319.228909 169.794541
L 299.634954 186.830897
z
" clip-path="url(#pe1fc2122fa)" style="fill: #114e45; fill-opacity: 0.7"/>
<path d="M 281.626291 181.008962
L 280.696143 158.804346
L 300.763633 142.330592
L 301.467532 164.223142
z
" clip-path="url(#pe1fc2122fa)" style="fill: #1b8172; fill-opacity: 0.7"/>
<path d="M 299.634954 186.830897
L 319.228909 169.794541
L 318.705449 147.797573
L 298.890239 164.519814
z
" clip-path="url(#pe1fc2122fa)" style="fill: #0d3d36; fill-opacity: 0.7"/>
<path d="M 280.696143 158.804346
L 298.890239 164.519814
L 318.705449 147.797573
L 300.763633 142.330592
z
" clip-path="url(#pe1fc2122fa)" style="fill: #187063; fill-opacity: 0.7"/>
<path d="M 281.626291 181.008962
L 299.634954 186.830897
L 298.890239 164.519814
L 280.696143 158.804346
z
" clip-path="url(#pe1fc2122fa)" style="fill: #1b8172; fill-opacity: 0.7"/>
</g>
<g id="Poly3DCollection_23">
<path d="M 369.211785 157.581191
L 369.209809 112.190804
L 387.699095 117.444912
L 387.310058 163.054989
z
" clip-path="url(#pe1fc2122fa)" style="fill: #5f2b21; fill-opacity: 0.7"/>
<path d="M 351.035619 174.070813
L 369.211785 157.581191
L 387.310058 163.054989
L 369.398801 179.78852
z
" clip-path="url(#pe1fc2122fa)" style="fill: #7a372a; fill-opacity: 0.7"/>
<path d="M 351.035619 174.070813
L 350.635043 128.023599
L 369.209809 112.190804
L 369.211785 157.581191
z
" clip-path="url(#pe1fc2122fa)" style="fill: #c95c46; fill-opacity: 0.7"/>
<path d="M 369.398801 179.78852
L 387.310058 163.054989
L 387.699095 117.444912
L 369.400897 133.517037
z
" clip-path="url(#pe1fc2122fa)" style="fill: #5f2b21; fill-opacity: 0.7"/>
<path d="M 350.635043 128.023599
L 369.400897 133.517037
L 387.699095 117.444912
L 369.209809 112.190804
z
" clip-path="url(#pe1fc2122fa)" style="fill: #af503d; fill-opacity: 0.7"/>
<path d="M 351.035619 174.070813
L 369.398801 179.78852
L 369.400897 133.517037
L 350.635043 128.023599
z
" clip-path="url(#pe1fc2122fa)" style="fill: #c95c46; fill-opacity: 0.7"/>
</g>
<g id="Poly3DCollection_24">
<path d="M 323.71014 171.200217
L 323.390417 156.454066
L 341.607046 162.058811
L 341.801348 176.875078
z
" clip-path="url(#pe1fc2122fa)" style="fill: #0d3d36; fill-opacity: 0.7"/>
<path d="M 304.179503 188.300082
L 303.712538 173.344425
L 323.390417 156.454066
L 323.71014 171.200217
z
" clip-path="url(#pe1fc2122fa)" style="fill: #1b8172; fill-opacity: 0.7"/>
<path d="M 304.179503 188.300082
L 323.71014 171.200217
L 341.801348 176.875078
L 322.530131 194.232569
z
" clip-path="url(#pe1fc2122fa)" style="fill: #114e45; fill-opacity: 0.7"/>
<path d="M 303.712538 173.344425
L 322.192183 179.205465
L 341.607046 162.058811
L 323.390417 156.454066
z
" clip-path="url(#pe1fc2122fa)" style="fill: #187063; fill-opacity: 0.7"/>
<path d="M 322.530131 194.232569
L 341.801348 176.875078
L 341.607046 162.058811
L 322.192183 179.205465
z
" clip-path="url(#pe1fc2122fa)" style="fill: #0d3d36; fill-opacity: 0.7"/>
<path d="M 304.179503 188.300082
L 322.530131 194.232569
L 322.192183 179.205465
L 303.712538 173.344425
z
" clip-path="url(#pe1fc2122fa)" style="fill: #1b8172; fill-opacity: 0.7"/>
</g>
<g id="Poly3DCollection_25">
<path d="M 346.366183 178.306978
L 346.290954 171.433528
L 364.781601 177.182205
L 364.796495 184.088209
z
" clip-path="url(#pe1fc2122fa)" style="fill: #0d3d36; fill-opacity: 0.7"/>
<path d="M 327.161387 195.729785
L 327.020041 188.759085
L 346.290954 171.433528
L 346.366183 178.306978
z
" clip-path="url(#pe1fc2122fa)" style="fill: #1b8172; fill-opacity: 0.7"/>
<path d="M 327.161387 195.729785
L 346.366183 178.306978
L 364.796495 184.088209
L 345.863814 201.776003
z
" clip-path="url(#pe1fc2122fa)" style="fill: #114e45; fill-opacity: 0.7"/>
<path d="M 327.020041 188.759085
L 345.784591 194.772155
L 364.781601 177.182205
L 346.290954 171.433528
z
" clip-path="url(#pe1fc2122fa)" style="fill: #187063; fill-opacity: 0.7"/>
<path d="M 345.863814 201.776003
L 364.796495 184.088209
L 364.781601 177.182205
L 345.784591 194.772155
z
" clip-path="url(#pe1fc2122fa)" style="fill: #0d3d36; fill-opacity: 0.7"/>
<path d="M 327.161387 195.729785
L 345.863814 201.776003
L 345.784591 194.772155
L 327.020041 188.759085
z
" clip-path="url(#pe1fc2122fa)" style="fill: #1b8172; fill-opacity: 0.7"/>
</g>
<g id="Poly3DCollection_26">
<path d="M 374.032424 181.231282
L 391.87592 164.435928
L 410.307283 170.010468
L 392.741124 187.056572
z
" clip-path="url(#pe1fc2122fa)" style="fill: #7a372a; fill-opacity: 0.7"/>
<path d="M 391.87592 164.435928
L 392.402395 115.230509
L 411.270855 120.565635
L 410.307283 170.010468
z
" clip-path="url(#pe1fc2122fa)" style="fill: #5f2b21; fill-opacity: 0.7"/>
<path d="M 374.032424 181.231282
L 374.145215 131.310093
L 392.402395 115.230509
L 391.87592 164.435928
z
" clip-path="url(#pe1fc2122fa)" style="fill: #c95c46; fill-opacity: 0.7"/>
<path d="M 392.741124 187.056572
L 410.307283 170.010468
L 411.270855 120.565635
L 393.304487 136.891011
z
" clip-path="url(#pe1fc2122fa)" style="fill: #5f2b21; fill-opacity: 0.7"/>
<path d="M 374.032424 181.231282
L 392.741124 187.056572
L 393.304487 136.891011
L 374.145215 131.310093
z
" clip-path="url(#pe1fc2122fa)" style="fill: #c95c46; fill-opacity: 0.7"/>
<path d="M 374.145215 131.310093
L 393.304487 136.891011
L 411.270855 120.565635
L 392.402395 115.230509
z
" clip-path="url(#pe1fc2122fa)" style="fill: #af503d; fill-opacity: 0.7"/>
</g>
<g id="Poly3DCollection_27">
<path d="M 419.212402 167.255869
L 435.77868 151.054673
L 454.199447 156.433412
L 437.914663 172.872123
z
" clip-path="url(#pe1fc2122fa)" style="fill: #4d6a63; fill-opacity: 0.7"/>
<path d="M 435.77868 151.054673
L 438.563453 62.11732
L 457.782683 67.053455
L 454.199447 156.433412
z
" clip-path="url(#pe1fc2122fa)" style="fill: #3c524d; fill-opacity: 0.7"/>
<path d="M 419.212402 167.255869
L 421.350622 76.994419
L 438.563453 62.11732
L 435.77868 151.054673
z
" clip-path="url(#pe1fc2122fa)" style="fill: #80afa4; fill-opacity: 0.7"/>
<path d="M 437.914663 172.872123
L 454.199447 156.433412
L 457.782683 67.053455
L 440.876778 82.158004
z
" clip-path="url(#pe1fc2122fa)" style="fill: #3c524d; fill-opacity: 0.7"/>
<path d="M 419.212402 167.255869
L 437.914663 172.872123
L 440.876778 82.158004
L 421.350622 76.994419
z
" clip-path="url(#pe1fc2122fa)" style="fill: #80afa4; fill-opacity: 0.7"/>
<path d="M 421.350622 76.994419
L 440.876778 82.158004
L 457.782683 67.053455
L 438.563453 62.11732
z
" clip-path="url(#pe1fc2122fa)" style="fill: #6f988f; fill-opacity: 0.7"/>
</g>
<g id="Poly3DCollection_28">
<path d="M 397.462343 188.526608
L 414.957565 171.41694
L 433.731298 177.09503
L 416.526405 194.462546
z
" clip-path="url(#pe1fc2122fa)" style="fill: #7a372a; fill-opacity: 0.7"/>
<path d="M 414.957565 171.41694
L 415.993734 123.694686
L 435.204664 129.140267
L 433.731298 177.09503
z
" clip-path="url(#pe1fc2122fa)" style="fill: #5f2b21; fill-opacity: 0.7"/>
<path d="M 397.462343 188.526608
L 398.116063 140.109308
L 415.993734 123.694686
L 414.957565 171.41694
z
" clip-path="url(#pe1fc2122fa)" style="fill: #c95c46; fill-opacity: 0.7"/>
<path d="M 416.526405 194.462546
L 433.731298 177.09503
L 435.204664 129.140267
L 417.631228 145.808007
z
" clip-path="url(#pe1fc2122fa)" style="fill: #5f2b21; fill-opacity: 0.7"/>
<path d="M 397.462343 188.526608
L 416.526405 194.462546
L 417.631228 145.808007
L 398.116063 140.109308
z
" clip-path="url(#pe1fc2122fa)" style="fill: #c95c46; fill-opacity: 0.7"/>
<path d="M 398.116063 140.109308
L 417.631228 145.808007
L 435.204664 129.140267
L 415.993734 123.694686
z
" clip-path="url(#pe1fc2122fa)" style="fill: #af503d; fill-opacity: 0.7"/>
</g>
<g id="Poly3DCollection_29">
<path d="M 369.447296 185.547075
L 369.448585 166.773146
L 388.397731 172.573878
L 388.226337 191.437696
z
" clip-path="url(#pe1fc2122fa)" style="fill: #0d3d36; fill-opacity: 0.7"/>
<path d="M 350.584281 203.302061
L 369.447296 185.547075
L 388.226337 191.437696
L 369.648721 209.465312
z
" clip-path="url(#pe1fc2122fa)" style="fill: #114e45; fill-opacity: 0.7"/>
<path d="M 350.584281 203.302061
L 350.412138 184.259589
L 369.448585 166.773146
L 369.447296 185.547075
z
" clip-path="url(#pe1fc2122fa)" style="fill: #1b8172; fill-opacity: 0.7"/>
<path d="M 369.648721 209.465312
L 388.226337 191.437696
L 388.397731 172.573878
L 369.651916 190.331298
z
" clip-path="url(#pe1fc2122fa)" style="fill: #0d3d36; fill-opacity: 0.7"/>
<path d="M 350.412138 184.259589
L 369.651916 190.331298
L 388.397731 172.573878
L 369.448585 166.773146
z
" clip-path="url(#pe1fc2122fa)" style="fill: #187063; fill-opacity: 0.7"/>
<path d="M 350.584281 203.302061
L 369.648721 209.465312
L 369.651916 190.331298
L 350.412138 184.259589
z
" clip-path="url(#pe1fc2122fa)" style="fill: #1b8172; fill-opacity: 0.7"/>
</g>
<g id="Poly3DCollection_30">
<path d="M 392.965555 192.924297
L 393.293168 164.10939
L 412.700494 169.973264
L 412.103317 198.927442
z
" clip-path="url(#pe1fc2122fa)" style="fill: #0d3d36; fill-opacity: 0.7"/>
<path d="M 374.461004 211.021052
L 392.965555 192.924297
L 412.103317 198.927442
L 393.89807 217.304768
z
" clip-path="url(#pe1fc2122fa)" style="fill: #114e45; fill-opacity: 0.7"/>
<path d="M 374.461004 211.021052
L 374.534074 181.790072
L 393.293168 164.10939
L 392.965555 192.924297
z
" clip-path="url(#pe1fc2122fa)" style="fill: #1b8172; fill-opacity: 0.7"/>
<path d="M 393.89807 217.304768
L 412.103317 198.927442
L 412.700494 169.973264
L 394.249302 187.931952
z
" clip-path="url(#pe1fc2122fa)" style="fill: #0d3d36; fill-opacity: 0.7"/>
<path d="M 374.534074 181.790072
L 394.249302 187.931952
L 412.700494 169.973264
L 393.293168 164.10939
z
" clip-path="url(#pe1fc2122fa)" style="fill: #187063; fill-opacity: 0.7"/>
<path d="M 374.461004 211.021052
L 393.89807 217.304768
L 394.249302 187.931952
L 374.534074 181.790072
z
" clip-path="url(#pe1fc2122fa)" style="fill: #1b8172; fill-opacity: 0.7"/>
</g>
</g>
</g>
<defs>
<clipPath id="pb77e497177">
<rect x="-12.296645" y="11.489585" width="229.86426" height="229.86426"/>
</clipPath>
<clipPath id="pe1fc2122fa">
<rect x="251.34416" y="11.653072" width="229.711133" height="229.711133"/>
</clipPath>
</defs>
<g id="labels">
<text x="0" y="0" font-size="7.56" font-family="'Liberation Sans', Arial, sans-serif" transform="translate(13.68 207.83)">1</text>
<text x="0" y="0" font-size="7.56" font-family="'Liberation Sans', Arial, sans-serif" transform="translate(36.94 215.50)">2</text>
<text x="0" y="0" font-size="7.56" font-family="'Liberation Sans', Arial, sans-serif" transform="translate(60.01 223.06)">3</text>
<text x="0" y="0" font-size="7.56" font-family="'Liberation Sans', Arial, sans-serif" transform="translate(84.13 230.98)">4</text>
<text x="0" y="0" font-size="7.56" font-family="'Liberation Sans', Arial, sans-serif" transform="translate(107.86 238.90)">5</text>
<text x="0" y="0" font-size="7.92" font-family="IPAGothic, 'Liberation Sans', sans-serif" transform="translate(151.78 228.31) scale(1.000 0.880)" stroke="#000" stroke-width="0.18">DFS</text>
<text x="0" y="0" font-size="7.92" font-family="IPAGothic, 'Liberation Sans', sans-serif" transform="translate(173.45 205.34) scale(1.000 0.880)" stroke="#000" stroke-width="0.18">BFS</text>
<text x="0" y="0" font-size="7.92" font-family="IPAGothic, 'Liberation Sans', sans-serif" transform="translate(188.17 184.03) scale(1.000 0.880)" stroke="#000" stroke-width="0.18">Random</text>
<text x="0" y="0" font-size="7.78" font-family="IPAGothic, 'Liberation Sans', sans-serif" transform="translate(22.82 225.86) rotate(16.50)" stroke="#000" stroke-width="0.18">conformers number</text>
<text x="0" y="0" font-size="7.56" font-family="'Liberation Sans', Arial, sans-serif" transform="translate(277.56 207.83)">1</text>
<text x="0" y="0" font-size="7.56" font-family="'Liberation Sans', Arial, sans-serif" transform="translate(300.82 215.50)">2</text>
<text x="0" y="0" font-size="7.56" font-family="'Liberation Sans', Arial, sans-serif" transform="translate(323.89 223.06)">3</text>
<text x="0" y="0" font-size="7.56" font-family="'Liberation Sans', Arial, sans-serif" transform="translate(348.01 230.98)">4</text>
<text x="0" y="0" font-size="7.56" font-family="'Liberation Sans', Arial, sans-serif" transform="translate(371.74 238.90)">5</text>
<text x="0" y="0" font-size="7.92" font-family="IPAGothic, 'Liberation Sans', sans-serif" transform="translate(415.66 228.31) scale(1.000 0.880)" stroke="#000" stroke-width="0.18">DFS</text>
<text x="0" y="0" font-size="7.92" font-family="IPAGothic, 'Liberation Sans', sans-serif" transform="translate(437.33 205.34) scale(1.000 0.880)" stroke="#000" stroke-width="0.18">BFS</text>
<text x="0" y="0" font-size="7.92" font-family="IPAGothic, 'Liberation Sans', sans-serif" transform="translate(452.05 184.03) scale(1.000 0.880)" stroke="#000" stroke-width="0.18">Random</text>
<text x="0" y="0" font-size="7.78" font-family="IPAGothic, 'Liberation Sans', sans-serif" transform="translate(286.27 225.86) rotate(16.50)" stroke="#000" stroke-width="0.18">conformers number</text>
<text x="0" y="0" font-size="9.36" font-family="IPAGothic, 'Liberation Sans', sans-serif" transform="translate(88.42 8.14)">SHS27k</text>
<text x="0" y="0" font-size="9.36" font-family="IPAGothic, 'Liberation Sans', sans-serif" transform="translate(354.67 7.49)">yeast</text>
<text x="0" y="0" font-size="9.36" font-family="IPAGothic, 'Liberation Sans', sans-serif" transform="translate(208.22 54.07)">F1</text>
<text x="0" y="0" font-size="9.36" font-family="IPAGothic, 'Liberation Sans', sans-serif" transform="translate(472.00 54.07)">F1</text>
<text x="0.00 3.96 7.92 11.88" y="0" font-size="7.56" font-family="'Liberation Sans', Arial, sans-serif" transform="translate(213.41 67.75)">0.90</text>
<text x="0.00 3.96 7.92 11.88" y="0" font-size="7.56" font-family="'Liberation Sans', Arial, sans-serif" transform="translate(212.54 86.40)">0.85</text>
<text x="0.00 3.96 7.92 11.88" y="0" font-size="7.56" font-family="'Liberation Sans', Arial, sans-serif" transform="translate(211.82 105.05)">0.80</text>
<text x="0.00 3.96 7.92 11.88" y="0" font-size="7.56" font-family="'Liberation Sans', Arial, sans-serif" transform="translate(210.60 123.16)">0.75</text>
<text x="0.00 3.96 7.92 11.88" y="0" font-size="7.56" font-family="'Liberation Sans', Arial, sans-serif" transform="translate(209.66 140.87)">0.70</text>
<text x="0.00 3.96 7.92 11.88" y="0" font-size="7.56" font-family="'Liberation Sans', Arial, sans-serif" transform="translate(208.66 158.44)">0.65</text>
<text x="0.00 3.96 7.92 11.88" y="0" font-size="7.56" font-family="'Liberation Sans', Arial, sans-serif" transform="translate(476.93 71.14)">0.95</text>
<text x="0.00 3.96 7.92 11.88" y="0" font-size="7.56" font-family="'Liberation Sans', Arial, sans-serif" transform="translate(476.14 89.06)">0.90</text>
<text x="0.00 3.96 7.92 11.88" y="0" font-size="7.56" font-family="'Liberation Sans', Arial, sans-serif" transform="translate(475.34 107.14)">0.85</text>
<text x="0.00 3.96 7.92 11.88" y="0" font-size="7.56" font-family="'Liberation Sans', Arial, sans-serif" transform="translate(474.26 124.63)">0.80</text>
<text x="0.00 3.96 7.92 11.88" y="0" font-size="7.56" font-family="'Liberation Sans', Arial, sans-serif" transform="translate(473.69 141.26)">0.75</text>
<text x="0.00 3.96 7.92 11.88" y="0" font-size="7.56" font-family="'Liberation Sans', Arial, sans-serif" transform="translate(472.54 158.76)">0.70</text>
</g>
</svg>

</body></html>
